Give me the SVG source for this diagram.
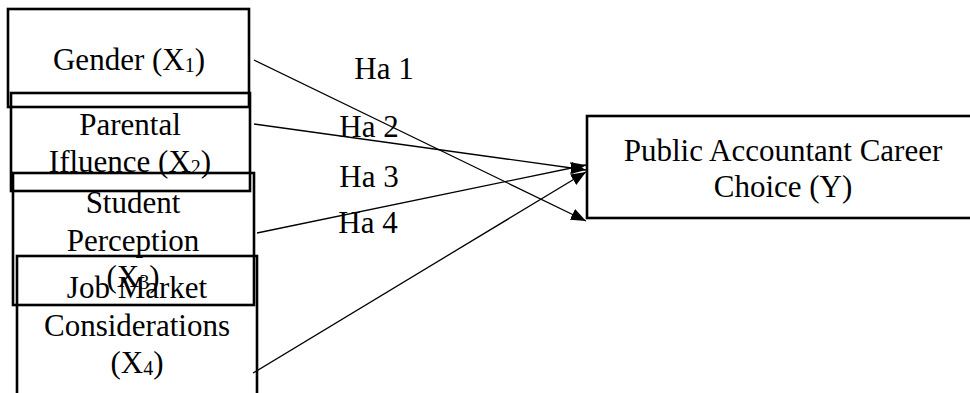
<svg xmlns="http://www.w3.org/2000/svg" width="970" height="393" viewBox="0 0 970 393">
<style>
.box{fill:none;stroke:#000;stroke-width:2.6}
.t{font-family:"Liberation Serif","Times New Roman",serif;font-size:31px;fill:#000;text-anchor:middle}
.s{font-size:20px}
.c{stroke:#000;stroke-width:1.3;fill:none;marker-end:url(#ah)}
</style>
<defs>
<marker id="ah" markerUnits="userSpaceOnUse" markerWidth="16" markerHeight="12" refX="15" refY="6" orient="auto">
<path d="M0,0 L15,6 L0,12 Z" fill="#000"/>
</marker>
</defs>
<rect width="970" height="393" fill="#fff"/>
<g id="gender">
<rect class="box" x="8" y="9" width="241" height="98"/>
<text class="t" x="129" y="70">Gender (X<tspan class="s" dy="2">1</tspan><tspan dy="-2">)</tspan></text>
</g>
<g id="parental">
<rect class="box" x="11" y="93" width="239" height="98"/>
<text class="t" x="130" y="135">Parental</text>
<text class="t" x="130" y="172">Ifluence (X<tspan class="s" dy="2">2</tspan><tspan dy="-2">)</tspan></text>
</g>
<g id="student">
<rect class="box" x="13" y="173" width="241" height="132"/>
<text class="t" x="133" y="213">Student</text>
<text class="t" x="133" y="251">Perception</text>
<text class="t" x="133" y="287">(X<tspan class="s" dy="2">3</tspan><tspan dy="-2">)</tspan></text>
</g>
<g id="job">
<rect class="box" x="17" y="256" width="240" height="160"/>
<text class="t" x="137" y="298">Job Market</text>
<text class="t" x="137" y="336">Considerations</text>
<text class="t" x="137" y="373">(X<tspan class="s" dy="2">4</tspan><tspan dy="-2">)</tspan></text>
</g>
<g id="career">
<rect class="box" x="587" y="116" width="400" height="102"/>
<text class="t" x="783" y="161">Public Accountant Career</text>
<text class="t" x="783" y="197">Choice (Y)</text>
</g>
<g id="connectors">
<line class="c" x1="254" y1="60" x2="586" y2="221"/>
<line class="c" x1="254" y1="124" x2="586" y2="170"/>
<line class="c" x1="257" y1="233" x2="586" y2="165"/>
<line class="c" x1="253" y1="373" x2="586" y2="172"/>
<text class="t" x="384" y="79">Ha 1</text>
<text class="t" x="369" y="137">Ha 2</text>
<text class="t" x="369" y="187">Ha 3</text>
<text class="t" x="368" y="233">Ha 4</text>
</g>
</svg>
